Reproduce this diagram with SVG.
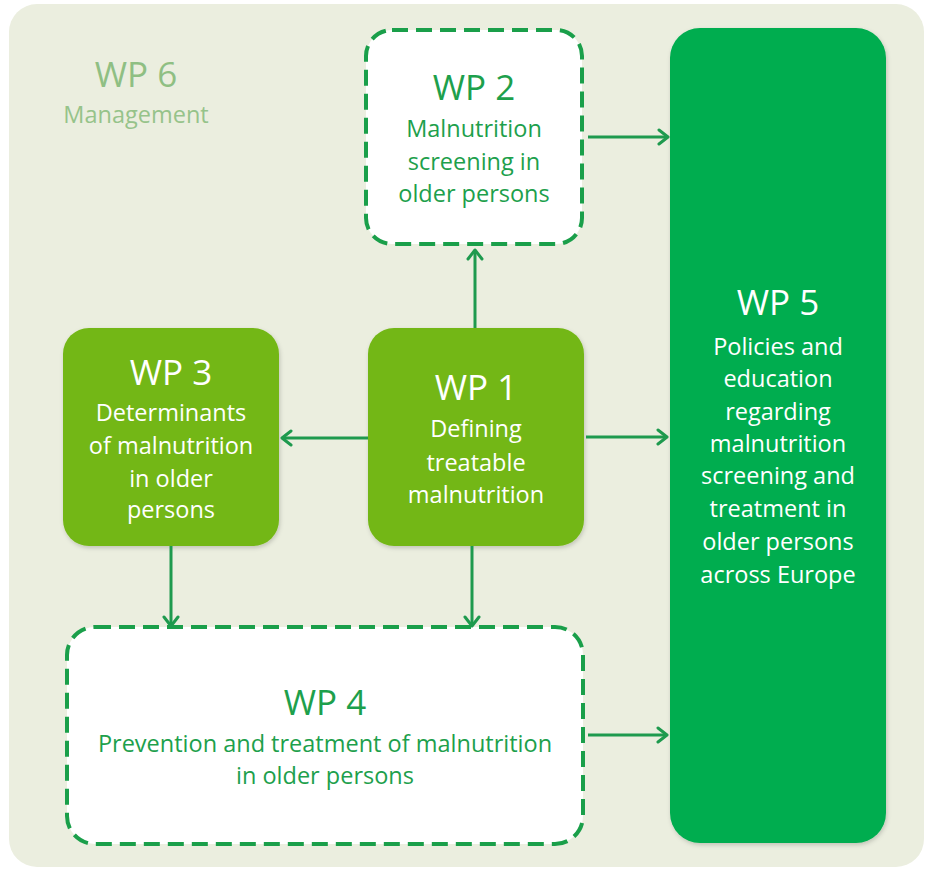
<svg xmlns="http://www.w3.org/2000/svg" width="926" height="870" viewBox="0 0 926 870">
<defs>
<marker id="ah" markerUnits="userSpaceOnUse" markerWidth="14" markerHeight="18" refX="11" refY="9" orient="auto">
<path d="M2,2 L11,9 L2,16" fill="none" stroke="#1e9a4e" stroke-width="3" stroke-linecap="round" stroke-linejoin="round"/>
</marker>
<filter id="sh" x="-10%" y="-10%" width="125%" height="125%">
<feDropShadow dx="1" dy="2" stdDeviation="2" flood-color="#000" flood-opacity="0.18"/>
</filter>
</defs>
<style>
text{font-family:"Open Sans","Liberation Sans",sans-serif;text-anchor:middle}
.h{font-size:35px}
.b{font-size:23.5px}
.dash{fill:#fff;stroke:#1a9f4a;stroke-width:4;stroke-dasharray:16 8}
.g1{fill:#73b716}
.g5{fill:#00ad4f}
.tw{fill:#fff}
.tg{fill:#1da04c}
.conn line{stroke:#1e9a4e;stroke-width:3;marker-end:url(#ah)}
</style>
<rect x="9" y="4" width="915" height="863" rx="28" fill="#ebeedf"/>
<g id="wp6">
<text x="136" y="87" class="h" fill="#8fbf83">WP 6</text>
<text x="136" y="123" class="b" fill="#96c38a">Management</text>
</g>
<g id="wp2">
<rect x="366" y="30" width="216" height="214" rx="26" class="dash"/>
<text x="474" y="100" class="h tg">WP 2</text>
<text x="474" y="137" class="b tg">Malnutrition</text>
<text x="474" y="170" class="b tg">screening in</text>
<text x="474" y="202" class="b tg">older persons</text>
</g>
<g id="wp5">
<rect x="670" y="28" width="216" height="815" rx="30" class="g5" filter="url(#sh)"/>
<text x="778" y="315" class="h tw">WP 5</text>
<text x="778" y="355" class="b tw">Policies and</text>
<text x="778" y="387" class="b tw">education</text>
<text x="778" y="420" class="b tw">regarding</text>
<text x="778" y="452" class="b tw">malnutrition</text>
<text x="778" y="484" class="b tw">screening and</text>
<text x="778" y="517" class="b tw">treatment in</text>
<text x="778" y="550" class="b tw">older persons</text>
<text x="778" y="583" class="b tw">across Europe</text>
</g>
<g id="wp3">
<rect x="63" y="328" width="216" height="218" rx="26" class="g1" filter="url(#sh)"/>
<text x="171" y="385" class="h tw">WP 3</text>
<text x="171" y="421" class="b tw">Determinants</text>
<text x="171" y="454" class="b tw">of malnutrition</text>
<text x="171" y="487" class="b tw">in older</text>
<text x="171" y="518" class="b tw">persons</text>
</g>
<g id="wp1">
<rect x="368" y="328" width="216" height="218" rx="26" class="g1" filter="url(#sh)"/>
<text x="476" y="400" class="h tw">WP 1</text>
<text x="476" y="437" class="b tw">Defining</text>
<text x="476" y="471" class="b tw">treatable</text>
<text x="476" y="503" class="b tw">malnutrition</text>
</g>
<g id="wp4">
<rect x="67" y="627" width="516" height="217" rx="28" class="dash"/>
<text x="325" y="715" class="h tg">WP 4</text>
<text x="325" y="752" class="b tg">Prevention and treatment of malnutrition</text>
<text x="325" y="784" class="b tg">in older persons</text>
</g>
<g class="conn">
<line x1="588" y1="137" x2="668" y2="137"/>
<line x1="475" y1="328" x2="475" y2="250"/>
<line x1="368" y1="438" x2="282" y2="438"/>
<line x1="586" y1="437" x2="667" y2="437"/>
<line x1="171" y1="546" x2="171" y2="626"/>
<line x1="472" y1="546" x2="472" y2="626"/>
<line x1="588" y1="735" x2="667" y2="735"/>
</g>
</svg>
